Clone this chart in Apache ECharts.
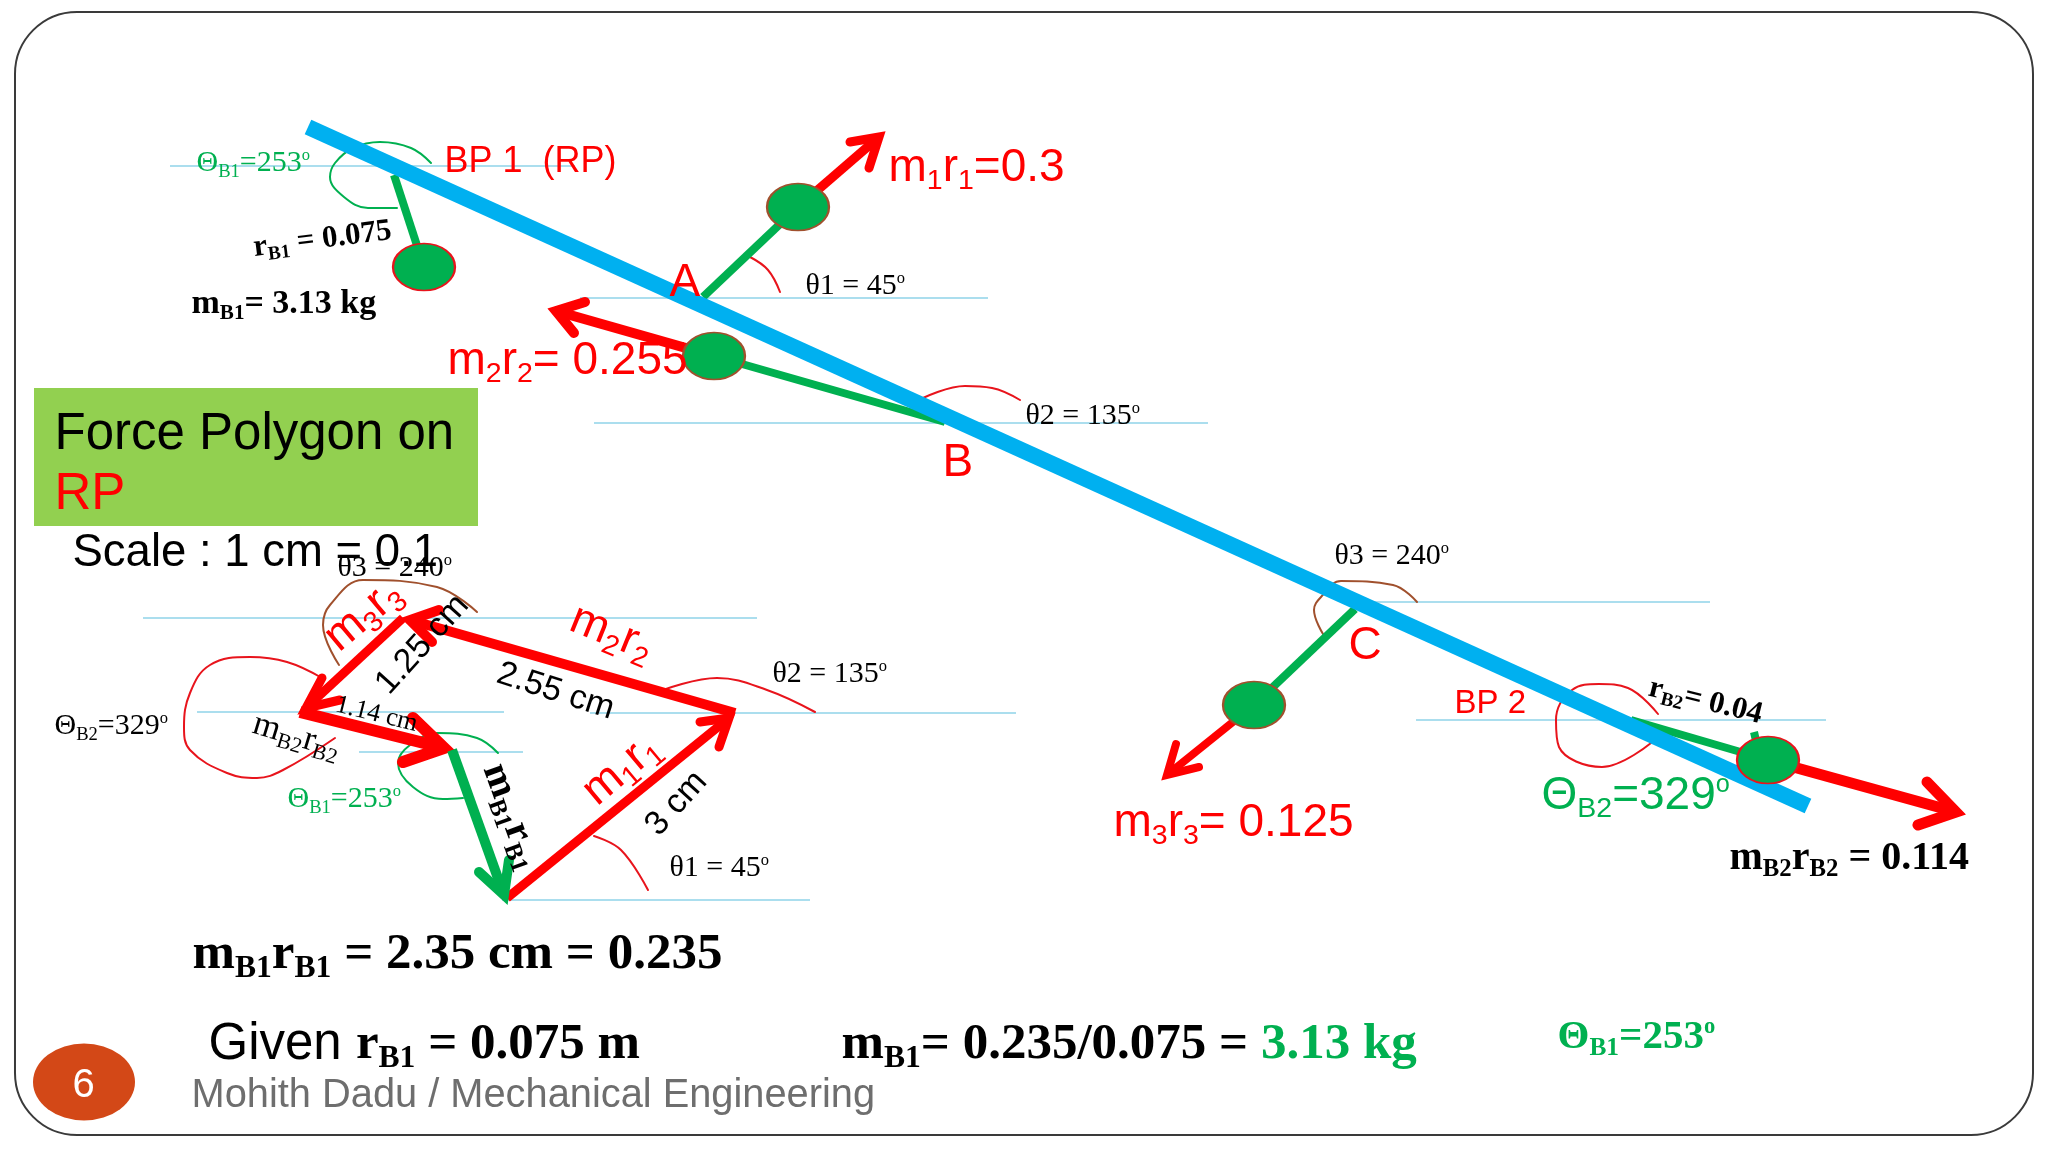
<!DOCTYPE html>
<html>
<head>
<meta charset="utf-8">
<title>Force Polygon on RP</title>
<script src="https://cdn.jsdelivr.net/npm/echarts@6/dist/echarts.min.js"></script>
<style>
  html, body { margin: 0; padding: 0; background: #fff; }
  #main { width: 2048px; height: 1152px; }
</style>
</head>
<body>
<div id="main"></div>
<script>
// --- geometry, in picture pixels ---
var shaftLine = [[308, 127], [1808, 806]];

var refLines = [
  [[170, 166], [575, 166]],
  [[580, 298], [988, 298]],
  [[594, 423], [1208, 423]],
  [[1370, 602], [1710, 602]],
  [[1416, 720], [1826, 720]],
  [[143, 618], [757, 618]],
  [[197, 712], [504, 712]],
  [[590, 713], [1016, 713]],
  [[359, 752], [523, 752]],
  [[502, 900], [810, 900]]
];

var stems = [
  [[703, 297], [798, 207]],
  [[945, 422], [714, 356]],
  [[394, 175], [424, 267]],
  [[1355, 609], [1254, 705]],
  [[1631, 720], [1768, 760]],
  [[1754, 732], [1757, 745]]
];

// each arrow: start, tip, barb, barb
var redArrows = [
  [[798, 207], [879, 137], [850, 142], [869, 168]],
  [[714, 356], [556, 311], [585, 302], [574, 333]],
  [[1254, 705], [1167, 775], [1176, 744], [1199, 767]],
  [[1768, 760], [1956, 812], [1927, 782], [1918, 825]],
  [[507, 898], [729, 718], [700, 722], [719, 747]],
  [[735, 713], [410, 620], [439, 610], [432, 642]],
  [[403, 618], [306, 708], [322, 678], [340, 700]],
  [[300, 712], [444, 748], [413, 718], [403, 762]]
];
var redArrowWidths = [9, 10, 8, 11, 9, 10, 9, 12];
var greenArrow = [[452, 750], [504, 895], [479, 872], [509, 860]];

var arcsGreen = [
  [[431, 163], [411, 148], [380, 142], [353, 148], [335, 163], [330, 177], [344, 197], [368, 208], [397, 208]],
  [[498, 753], [477, 738], [438, 733], [410, 745], [398, 763], [413, 787], [443, 799], [463, 798]]
];
var arcsRed = [
  [[750, 257], [768, 270], [780, 292]],
  [[923, 398], [965, 386], [992, 388], [1020, 400]],
  [[1658, 714], [1628, 688], [1599, 684], [1572, 690], [1556, 720], [1559, 747], [1602, 767], [1651, 743]],
  [[322, 678], [287, 662], [250, 657], [210, 665], [190, 693], [184, 727], [190, 750], [227, 773], [257, 778], [283, 770], [335, 738]],
  [[663, 690], [717, 678], [767, 690], [815, 712]],
  [[594, 836], [621, 850], [648, 890]]
];
var arcsBrown = [
  [[1323, 634], [1314, 610], [1321, 597], [1341, 581], [1393, 585], [1417, 602]],
  [[339, 665], [323, 625], [330, 605], [363, 580], [437, 587], [477, 612]]
];

var ballsBrown = [[798, 207], [714, 356], [1254, 705]];
var ballsRed = [[424, 267], [1768, 760]];
var ballSize = [62, 47];

var pageBadge = [[84, 1082]];
var polygonBox = [[34, 388], [478, 526]];

// --- text: x, y, markup, rotation. n = normal, s = subscript, u = superscript, g = alternate ---
var redBig = [
  [889, 165, '{n|m}{s|1}{n|r}{s|1}{n|=0.3}', 0],
  [448, 358, '{n|m}{s|2}{n|r}{s|2}{n|= 0.255}', 0],
  [1114, 820, '{n|m}{s|3}{n|r}{s|3}{n|= 0.125}', 0],
  [364, 616, '{n|m}{s|3}{n|r}{s|3}', 40],
  [612, 634, '{n|m}{s|2}{n|r}{s|2}', -22],
  [622, 770, '{n|m}{s|1}{n|r}{s|1}', 40],
  [670, 280, '{n|A}', 0],
  [943, 460, '{n|B}', 0],
  [1349, 643, '{n|C}', 0]
];
var redLabel = [[445, 159, '{n|BP 1  (RP)}', 0]];
var redSmall = [[1455, 700, '{n|BP 2}', 0]];
var blackSans = [
  [423, 645, '{n|1.25 cm}', 48],
  [556, 692, '{n|2.55 cm}', -18],
  [677, 804, '{n|3 cm}', 48]
];
var angleLabels = [
  [806, 283, '{n|θ1 = 45}{u|o}', 0],
  [1026, 413, '{n|θ2 = 135}{u|o}', 0],
  [1335, 553, '{n|θ3 = 240}{u|o}', 0],
  [338, 565, '{n|θ3 = 240}{u|o}', 0],
  [773, 671, '{n|θ2 = 135}{u|o}', 0],
  [670, 865, '{n|θ1 = 45}{u|o}', 0],
  [55, 723, '{n|Θ}{s|B2}{n|=329}{u|o}', 0]
];
var smallCm = [[377, 715, '{n|1.14 cm}', -14]];
var polyB2 = [[297, 737, '{n|m}{s|B2}{n|r}{s|B2}', -17]];
var greenAngles = [
  [197, 160, '{n|Θ}{s|B1}{n|=253}{u|o}', 0],
  [288, 796, '{n|Θ}{s|B1}{n|=253}{u|o}', 0]
];
var boldSmall = [
  [323, 240, '{n|r}{s|B1}{n| = 0.075}', 7],
  [1706, 702, '{n|r}{s|B2}{n|= 0.04}', -14]
];
var boldMass = [[192, 301, '{n|m}{s|B1}{n|= 3.13 kg}', 0]];
var boldMid = [
  [1730, 855, '{n|m}{s|B2}{n|r}{s|B2}{n| = 0.114}', 0],
  [512, 817, '{n|m}{s|B1}{n|r}{s|B1}', -70]
];
var boldLarge = [
  [193, 951, '{n|m}{s|B1}{n|r}{s|B1}{n| = 2.35 cm = 0.235}', 0],
  [209, 1041, '{g|Given }{n|r}{s|B1}{n| = 0.075 m}', 0],
  [842, 1041, '{n|m}{s|B1}{n|= 0.235/0.075 = }{h|3.13 kg}', 0]
];
var greenSans = [[1542, 793, '{n|Θ}{s|B2}{n|=329}{u|o}', 0]];
var greenBold = [[1558, 1034, '{n|Θ}{s|B1}{n|=253}{u|o}', 0]];
var boxTitle = [[55, 431, '{n|Force Polygon on}', 0]];
var boxTitleRed = [[55, 491, '{n|RP}', 0]];
var scaleText = [[73, 550, '{n|Scale : 1 cm = 0.1}', 0]];
var footerText = [[192, 1093, '{n|Mohith Dadu / Mechanical Engineering}', 0]];
var badgeText = [[73, 1082, '{n|6}', 0]];

var SANS = '"Liberation Sans", Arial, sans-serif';
var SERIF = '"Liberation Serif", "Times New Roman", serif';
var RED = '#ff0000';
var GREEN = '#00b050';

function richFor(family, size, color, weight) {
  return {
    n: { fontFamily: family, fontSize: size, color: color, fontWeight: weight },
    s: { fontFamily: family, fontSize: size * 0.62, color: color, fontWeight: weight, padding: [size * 0.55, 0, 0, 0] },
    u: { fontFamily: family, fontSize: size * 0.55, color: color, fontWeight: weight, padding: [0, 0, size * 0.5, 0] },
    g: { fontFamily: SANS, fontSize: size, color: color, fontWeight: 'normal' },
    h: { fontFamily: family, fontSize: size, color: GREEN, fontWeight: weight }
  };
}

function labelSeries(rows, family, size, color, weight) {
  var rich = richFor(family, size, color, weight || 'normal');
  return {
    type: 'scatter',
    z: 9,
    silent: true,
    symbolSize: 1,
    itemStyle: { color: 'transparent', opacity: 1 },
    data: rows.map(function (r) {
      return {
        value: [r[0], r[1]],
        label: {
          show: true,
          position: [0, 0],
          offset: r[3] ? [0, 0] : [0, 4], // straight text sits a little high otherwise
          formatter: r[2],
          rich: rich,
          rotate: r[3],
          align: r[3] ? 'center' : 'left',
          verticalAlign: 'middle'
        }
      };
    })
  };
}

function strokeSeries(points, color, width, z, smooth) {
  return {
    type: 'line',
    z: z,
    silent: true,
    clip: false,
    symbol: 'none',
    smooth: smooth ? 0.4 : false,
    data: points,
    lineStyle: { color: color, width: width, cap: smooth ? 'round' : 'butt', join: 'miter' }
  };
}

function arrowSeries(a, color, width) {
  var out = [strokeSeries([a[0], a[1]], color, width, 4)];
  var head = strokeSeries([a[2], a[1], a[3]], color, width, 4);
  head.lineStyle.cap = 'round';
  out.push(head);
  return out;
}

function ballSeries(centers, border) {
  return {
    type: 'scatter',
    z: 6,
    silent: true,
    symbolSize: ballSize,
    data: centers,
    itemStyle: { color: GREEN, opacity: 1, borderColor: border, borderWidth: 2 }
  };
}

var series = [];

// green title box sits under everything
series.push({
  type: 'custom',
  z: 0,
  silent: true,
  data: [polygonBox[0].concat(polygonBox[1])],
  renderItem: function (params, api) {
    var a = api.coord([api.value(0), api.value(1)]);
    var b = api.coord([api.value(2), api.value(3)]);
    return {
      type: 'rect',
      shape: { x: a[0], y: a[1], width: b[0] - a[0], height: b[1] - a[1] },
      style: { fill: '#92d050' }
    };
  }
});

refLines.forEach(function (l) { series.push(strokeSeries(l, '#8fd3e8', 1.5, 1)); });
arcsGreen.forEach(function (l) { series.push(strokeSeries(l, GREEN, 2, 2, true)); });
arcsRed.forEach(function (l) { series.push(strokeSeries(l, '#e8141c', 2, 2, true)); });
arcsBrown.forEach(function (l) { series.push(strokeSeries(l, '#a0502d', 2, 2, true)); });
stems.forEach(function (l) { series.push(strokeSeries(l, GREEN, 8, 3)); });
redArrows.forEach(function (a, i) {
  series = series.concat(arrowSeries(a, RED, redArrowWidths[i]));
});
series = series.concat(arrowSeries(greenArrow, GREEN, 10));
series.push(strokeSeries(shaftLine, '#00b0f0', 16, 5));
series.push(ballSeries(ballsBrown, '#a0502d'));
series.push(ballSeries(ballsRed, '#e8141c'));
series.push({
  type: 'scatter',
  z: 6,
  silent: true,
  symbolSize: [102, 77],
  data: pageBadge,
  itemStyle: { color: '#d34817', opacity: 1 }
});

series.push(labelSeries(redBig, SANS, 46, RED));
series.push(labelSeries(redLabel, SANS, 36, RED));
series.push(labelSeries(redSmall, SANS, 33, RED));
series.push(labelSeries(blackSans, SANS, 34, '#000000'));
series.push(labelSeries(angleLabels, SERIF, 30, '#000000'));
series.push(labelSeries(smallCm, SERIF, 26, '#000000'));
series.push(labelSeries(polyB2, SERIF, 35, '#000000'));
series.push(labelSeries(greenAngles, SERIF, 30, GREEN));
series.push(labelSeries(boldSmall, SERIF, 31, '#000000', 'bold'));
series.push(labelSeries(boldMass, SERIF, 34, '#000000', 'bold'));
series.push(labelSeries(boldMid, SERIF, 40, '#000000', 'bold'));
series.push(labelSeries(boldLarge, SERIF, 51, '#000000', 'bold'));
series.push(labelSeries(greenSans, SANS, 46, GREEN));
series.push(labelSeries(greenBold, SERIF, 41, GREEN, 'bold'));
series.push(labelSeries(boxTitle, SANS, 51, '#000000'));
series.push(labelSeries(boxTitleRed, SANS, 51, RED));
series.push(labelSeries(scaleText, SANS, 45.5, '#000000'));
series.push(labelSeries(footerText, SANS, 39.8, '#6e6e6e'));
series.push(labelSeries(badgeText, SANS, 40, '#ffffff'));

var chart = echarts.init(document.getElementById('main'));
chart.setOption({
  animation: false,
  backgroundColor: '#ffffff',
  grid: { left: 0, right: 0, top: 0, bottom: 0 },
  xAxis: { type: 'value', min: 0, max: 2048, show: false },
  yAxis: { type: 'value', min: 0, max: 1152, inverse: true, show: false },
  graphic: [{
    type: 'rect',
    z: 0,
    silent: true,
    shape: { x: 15, y: 12, width: 2018, height: 1123, r: 62 },
    style: { fill: 'none', stroke: '#3a3a3a', lineWidth: 2 }
  }],
  series: series
});
</script>
</body>
</html>
